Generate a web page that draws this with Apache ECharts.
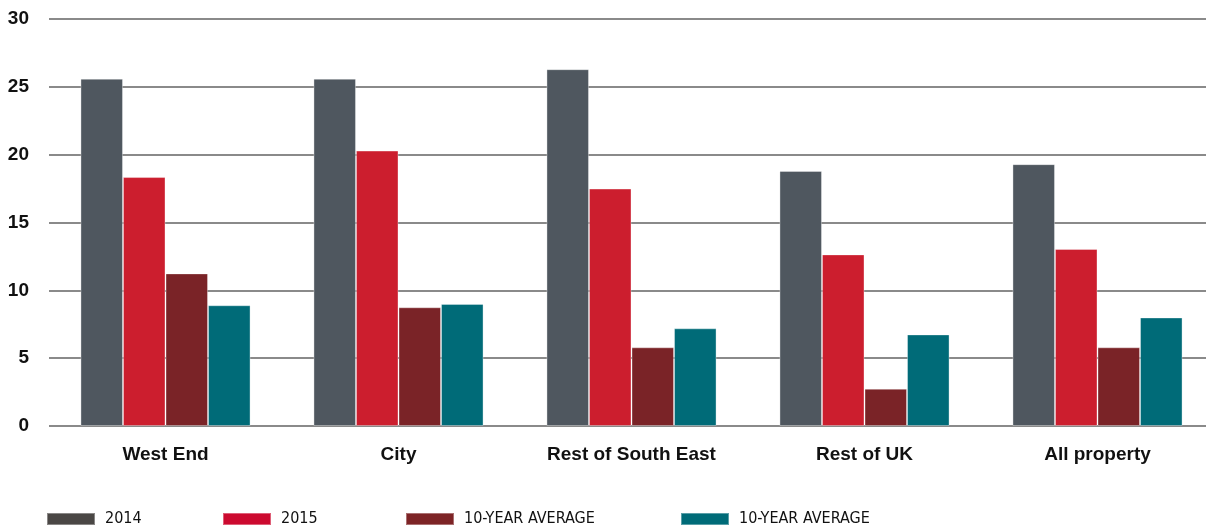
<!DOCTYPE html>
<html>
<head>
<meta charset="utf-8">
<script src="https://cdn.jsdelivr.net/npm/echarts@6/dist/echarts.min.js"></script>
<style>
  html, body { margin: 0; padding: 0; background: #ffffff; }
  #chart { width: 1206px; height: 528px; }
</style>
</head>
<body>
<div id="chart"></div>
<script>
// Property segments on the x axis
const categories = ['West End', 'City', 'Rest of South East', 'Rest of UK', 'All property'];

// Series values per segment
const values2014 = [25.6, 25.6, 26.3, 18.8, 19.3];
const values2015 = [18.35, 20.3, 17.5, 12.65, 13.05];
const valuesAvgA = [11.25, 8.75, 5.8, 2.75, 5.8];
const valuesAvgB = [8.9, 9.0, 7.2, 6.75, 8.0];

// Y axis range
const yMin = 0;
const yMax = 30;
const yStep = 5;

// Legend labels (second average keeps a trailing space so both entries stay distinct)
const legendNames = ['2014', '2015', '10-YEAR AVERAGE', '10-YEAR AVERAGE '];

const barColors = ['#4f575f', '#cc1e2e', '#7a2327', '#006b78'];
const swatchColors = ['#4a4745', '#cc0a2f', '#7d2426', '#006b78'];
const legendLeft = [46, 222, 405, 680];

const seriesValues = [values2014, values2015, valuesAvgA, valuesAvgB];

const chart = echarts.init(document.getElementById('chart'), null, { renderer: 'canvas' });

const legends = legendNames.map((name, i) => ({
  data: [{ name: name, itemStyle: { color: swatchColors[i] } }],
  left: legendLeft[i],
  top: 511,
  padding: 0,
  itemWidth: 48,
  itemHeight: 12,
  icon: 'rect',
  selectedMode: false,
  textStyle: {
    fontFamily: '"Liberation Sans Narrow", "DejaVu Sans Condensed", sans-serif',
    fontSize: 16,
    lineHeight: 16,
    color: '#111111',
    padding: [0, 0, 0, 5]
  }
}));

const series = legendNames.map((name, i) => ({
  name: name,
  type: 'bar',
  data: seriesValues[i],
  barGap: '0%',
  barCategoryGap: '27%',
  itemStyle: {
    color: barColors[i],
    borderColor: 'rgba(255,255,255,0.35)',
    borderWidth: 1
  },
  emphasis: { disabled: true }
}));

chart.setOption({
  animation: false,
  backgroundColor: '#ffffff',
  grid: { left: 49, top: 19, width: 1165, bottom: 102, containLabel: false, outerBoundsMode: 'none' },
  legend: legends,
  xAxis: {
    type: 'category',
    data: categories,
    axisLine: { show: false },
    axisTick: { show: false },
    axisLabel: {
      margin: 19,
      fontFamily: '"Liberation Sans", Arial, sans-serif',
      fontWeight: 'bold',
      fontSize: 19,
      color: '#111111'
    }
  },
  yAxis: {
    type: 'value',
    min: yMin,
    max: yMax,
    interval: yStep,
    axisLine: { show: false },
    axisTick: { show: false },
    splitLine: { lineStyle: { color: '#8a8a8a', width: 2 } },
    axisLabel: {
      margin: 20,
      fontFamily: '"Liberation Sans", Arial, sans-serif',
      fontWeight: 'bold',
      fontSize: 19,
      color: '#111111'
    }
  },
  series: series
});
</script>
</body>
</html>
